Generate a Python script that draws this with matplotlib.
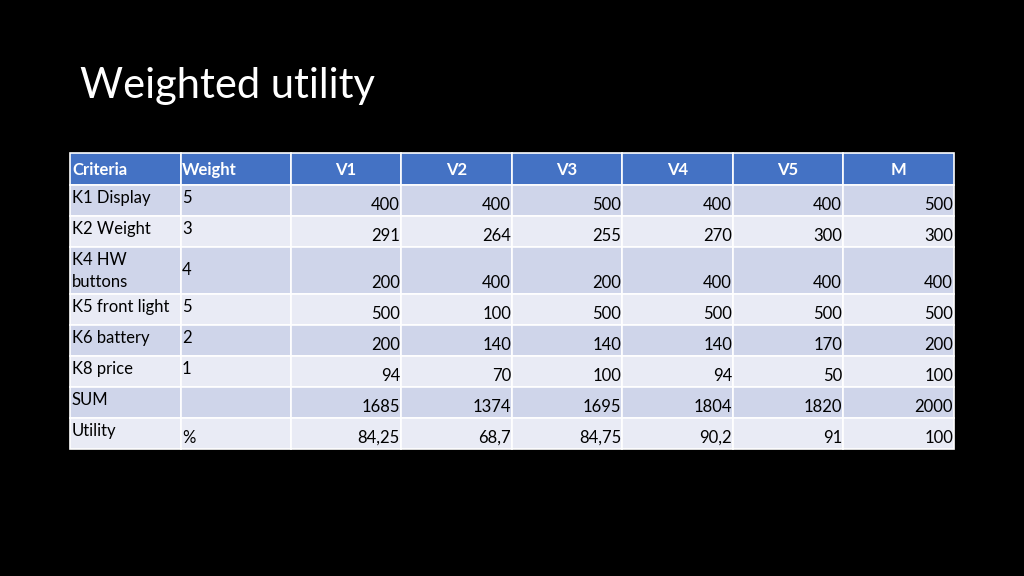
import matplotlib
matplotlib.use("Agg")
import matplotlib.pyplot as plt
from matplotlib.patches import Rectangle

plt.rcParams['font.family'] = ['Lato', 'DejaVu Sans']

title = "Weighted utility"
headers = ["Criteria", "Weight", "V1", "V2", "V3", "V4", "V5", "M"]
criteria = ["K1 Display", "K2 Weight", "K4 HW\nbuttons", "K5 front light", "K6 battery", "K8 price", "SUM", "Utility"]
weights = ["5", "3", "4", "5", "2", "1", "", "%"]
V1 = ["400", "291", "200", "500", "200", "94", "1685", "84,25"]
V2 = ["400", "264", "400", "100", "140", "70", "1374", "68,7"]
V3 = ["500", "255", "200", "500", "140", "100", "1695", "84,75"]
V4 = ["400", "270", "400", "500", "140", "94", "1804", "90,2"]
V5 = ["400", "300", "400", "500", "170", "50", "1820", "91"]
M = ["500", "300", "400", "500", "200", "100", "2000", "100"]
values = [V1, V2, V3, V4, V5, M]

col_edges = [70, 181, 291, 401, 512, 622, 733, 843, 954]
row_edges = [153, 185, 216, 247, 294, 325, 356, 387, 418, 449]

fig = plt.figure(figsize=(10.24, 5.76), dpi=100)
fig.patch.set_facecolor('black')
ax = fig.add_axes([0, 0, 1, 1])
ax.set_xlim(0, 1024); ax.set_ylim(576, 0); ax.axis('off')

ax.text(80, 86, title, color='white', fontsize=30, va='center', ha='left')

fs = 12
for r in range(len(row_edges) - 1):
    y0, y1 = row_edges[r], row_edges[r + 1]
    if r == 0:
        fc = '#4472C4'
    else:
        fc = '#CFD5EA' if r % 2 == 1 else '#E9EBF5'
    for c in range(len(col_edges) - 1):
        x0, x1 = col_edges[c], col_edges[c + 1]
        ax.add_patch(Rectangle((x0, y0), x1 - x0, y1 - y0, facecolor=fc, edgecolor='white', linewidth=1.2))
    if r == 0:
        ax.text(col_edges[0] + 2, (y0 + y1) / 2 + 1, headers[0], color='white', fontweight='bold', fontsize=fs, va='center')
        ax.text(col_edges[1] + 1, (y0 + y1) / 2 + 1, headers[1], color='white', fontweight='bold', fontsize=fs, va='center')
        for c in range(2, 8):
            ax.text((col_edges[c] + col_edges[c + 1]) / 2, (y0 + y1) / 2 + 1, headers[c], color='white', fontweight='bold', fontsize=fs, va='center', ha='center')
    else:
        i = r - 1
        ax.text(col_edges[0] + 2, y0 + 5, criteria[i], color='black', fontsize=fs, va='top', ha='left', linespacing=1.45)
        if i == 7:
            ax.text(col_edges[1] + 1, y1 - 3, weights[i], color='black', fontsize=fs, va='bottom', ha='left')
        else:
            ax.text(col_edges[1] + 1, y0 + (15 if i == 2 else 5), weights[i], color='black', fontsize=fs, va='top', ha='left')
        for c in range(6):
            ax.text(col_edges[c + 3] - 1, y1 - 3, values[c][i], color='black', fontsize=fs, va='bottom', ha='right')

fig.savefig("out.png", dpi=100, facecolor='black')
